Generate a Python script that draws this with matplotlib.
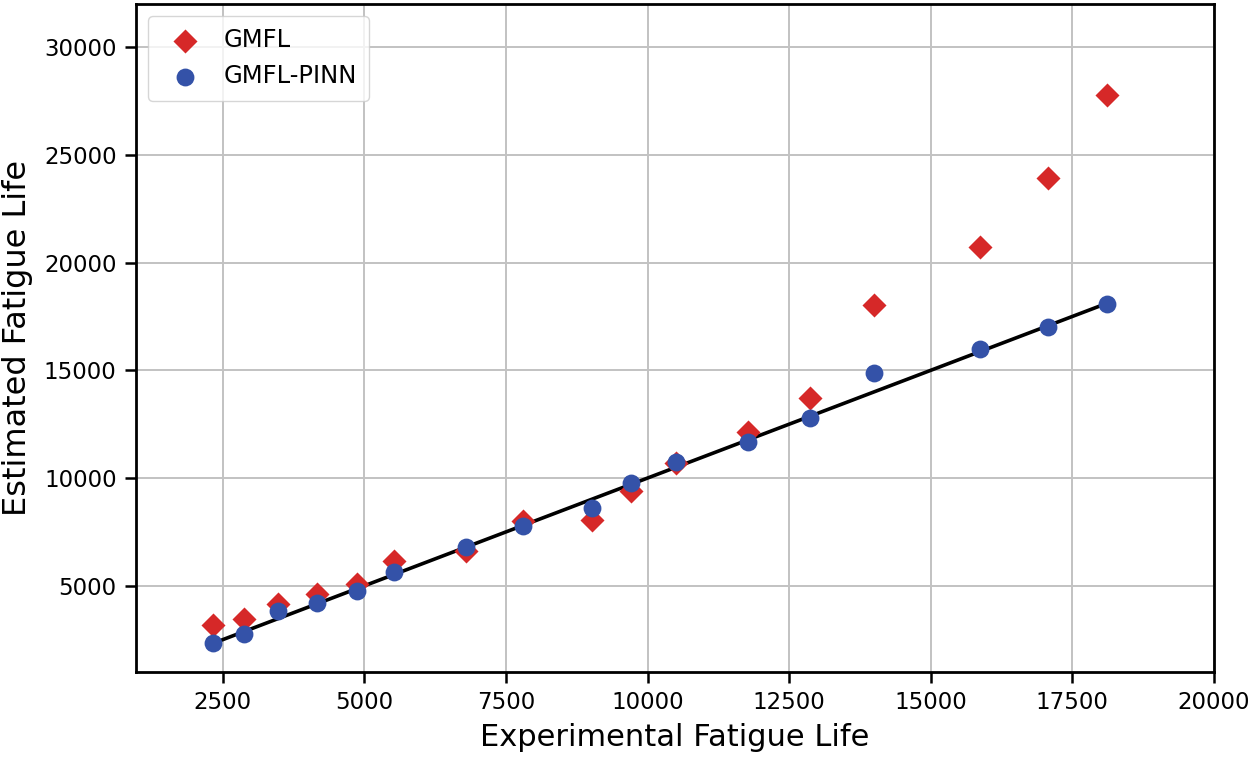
import matplotlib
matplotlib.use("Agg")
import matplotlib.pyplot as plt

# Experimental fatigue life (x) for each specimen
exp_life = [2320, 2880, 3480, 4165, 4870, 5520, 6800, 7798, 9020, 9700, 10495, 11780, 12870, 14000, 15870, 17074, 18120]
# GMFL estimates
gmfl = [3170, 3480, 4150, 4630, 5090, 6130, 6600, 7990, 8070, 9400, 10690, 12160, 13700, 18040, 20716, 23946, 27782]
# GMFL-PINN estimates
gmfl_pinn = [2340, 2780, 3808, 4197, 4768, 5663, 6796, 7784, 8610, 9765, 10767, 11695, 12790, 14875, 15983, 17032, 18071]

xticks = [2500, 5000, 7500, 10000, 12500, 15000, 17500, 20000]
yticks = [5000, 10000, 15000, 20000, 25000, 30000]

fig = plt.figure(figsize=(12.55, 7.57), dpi=100)
ax = fig.add_axes([0.1084, 0.1123, 0.8589, 0.8824])

ax.grid(True, color="#c2c2c2", linewidth=1.4, zorder=0)
ax.plot([min(exp_life), max(exp_life)], [min(exp_life), max(exp_life)],
        color="black", linewidth=2.6, zorder=2)
ax.scatter(exp_life, gmfl, marker="D", s=150, color="#d62828", label="GMFL", zorder=3, linewidths=0)
ax.scatter(exp_life, gmfl_pinn, marker="o", s=165, color="#3452a8", label="GMFL-PINN", zorder=4, linewidths=0)

ax.set_xlim(970, 20000)
ax.set_ylim(1000, 32000)
ax.set_xticks(xticks)
ax.set_yticks(yticks)
ax.tick_params(labelsize=16.5, width=1.8, length=8, pad=6)
for s in ax.spines.values():
    s.set_linewidth(2)

ax.set_xlabel("Experimental Fatigue Life", fontsize=22, labelpad=6)
ax.set_ylabel("Estimated Fatigue Life", fontsize=23, labelpad=8)

leg = ax.legend(loc="upper left", fontsize=17.5, frameon=True, borderpad=0.5,
                handletextpad=0.6, bbox_to_anchor=(0.0, 1.0))

fig.savefig("out.png", dpi=100)
